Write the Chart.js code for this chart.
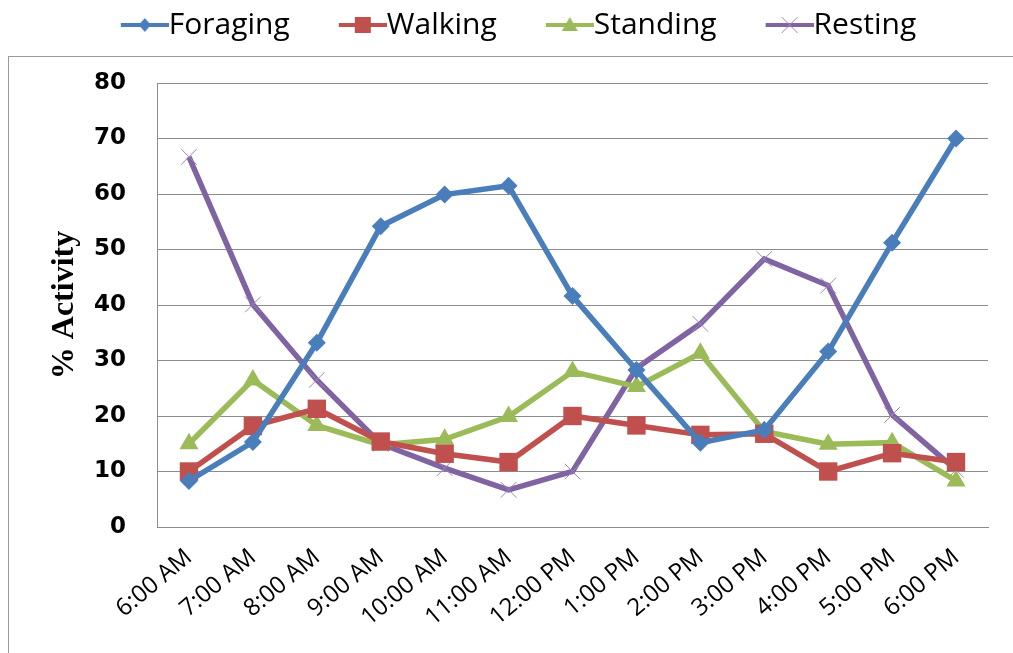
<!DOCTYPE html>
<html>
<head>
<meta charset="utf-8">
<title>% Activity by time of day</title>
<script src="https://cdn.jsdelivr.net/npm/chart.js@4.4.1/dist/chart.umd.min.js"></script>
<style>
  html, body { margin: 0; padding: 0; background: #fff; }
  #wrap { width: 1013px; height: 653px; position: relative; }
</style>
</head>
<body>
<div id="wrap"><canvas id="activity-chart" width="1013" height="653"></canvas></div>
<script>
// ─── Data ───
const TIMES = ['6:00 AM', '7:00 AM', '8:00 AM', '9:00 AM', '10:00 AM', '11:00 AM', '12:00 PM',
               '1:00 PM', '2:00 PM', '3:00 PM', '4:00 PM', '5:00 PM', '6:00 PM'];
const FORAGING = [8.3, 15.3, 33.2, 54.2, 59.9, 61.5, 41.6, 28.3, 15.2, 17.5, 31.6, 51.2, 70.0];
const WALKING  = [10.0, 18.2, 21.3, 15.4, 13.2, 11.7, 20.0, 18.3, 16.6, 16.8, 10.0, 13.3, 11.7];
const STANDING = [15.0, 26.5, 18.3, 14.8, 15.8, 19.9, 28.0, 25.3, 31.3, 17.2, 14.9, 15.2, 8.3];
const RESTING  = [66.7, 40.1, 26.5, 15.0, 10.6, 6.7, 10.0, 28.6, 36.6, 48.3, 43.5, 20.2, 10.3];

const Y_MIN = 0, Y_MAX = 80, Y_STEP = 10;

// ─── Series styling ───
const SERIES = [
  { label: 'Foraging', data: FORAGING, color: '#4a7ebb', marker: 'rectRot',  radius: 9 },
  { label: 'Walking',  data: WALKING,  color: '#c0504d', marker: 'rect',     radius: 13 },
  { label: 'Standing', data: STANDING, color: '#9bbb59', marker: 'triangle', radius: 11 },
  { label: 'Resting',  data: RESTING,  color: '#8064a2', marker: 'crossRot', radius: 11 },
];

const GRID = '#8c8c8c';
const LEGEND_FONT = 30;
const LEGEND_BOX = 72;
const LEGEND_EXTRA = 33;   // blank space between legend and plot top

// ─── Legend icons: short line with marker in the middle (Excel style) ───
function legendIcon(s) {
  const w = LEGEND_BOX + LEGEND_FONT, h = 30;
  const c = document.createElement('canvas');
  c.width = w; c.height = h;
  const g = c.getContext('2d');
  const x0 = w - 48, x1 = w, cx = (x0 + x1) / 2, cy = h / 2;
  g.strokeStyle = s.color; g.fillStyle = s.color;
  g.lineWidth = 4;
  g.beginPath(); g.moveTo(x0, cy); g.lineTo(x1, cy); g.stroke();
  g.beginPath();
  if (s.marker === 'rectRot') {
    g.moveTo(cx, cy - 7); g.lineTo(cx + 6, cy); g.lineTo(cx, cy + 7); g.lineTo(cx - 6, cy); g.closePath(); g.fill();
  } else if (s.marker === 'rect') {
    g.rect(cx - 8, cy - 8, 16, 16); g.fill();
  } else if (s.marker === 'triangle') {
    g.moveTo(cx, cy - 8); g.lineTo(cx + 8, cy + 6); g.lineTo(cx - 8, cy + 6); g.closePath(); g.fill();
  } else {
    g.strokeStyle = '#9a86bb';
    g.lineWidth = 1;
    g.moveTo(cx - 8, cy - 8); g.lineTo(cx + 8, cy + 8);
    g.moveTo(cx + 8, cy - 8); g.lineTo(cx - 8, cy + 8); g.stroke();
  }
  return c;
}
const ICONS = SERIES.map(legendIcon);

// ─── Outer frame + white background; extra gap under the legend ───
const framePlugin = {
  id: 'frame',
  beforeLayout(chart) {
    const lg = chart.legend;
    if (lg && !lg._padded) {
      const fit = lg.fit;
      lg.fit = function () { fit.call(this); this.height += LEGEND_EXTRA; };
      lg._padded = true;
    }
  },
  beforeDraw(chart) {
    const { ctx, width, height } = chart;
    ctx.save();
    ctx.fillStyle = '#fff';
    ctx.fillRect(0, 0, width, height);
    ctx.strokeStyle = '#9a9a9a';
    ctx.lineWidth = 1;
    ctx.strokeRect(8.5, 56.5, width + 20, height + 20);
    ctx.restore();
  },
};

// ─── Build chart ───
function buildChart() {
  const ctx = document.getElementById('activity-chart').getContext('2d');
  new Chart(ctx, {
    type: 'line',
    data: {
      labels: TIMES,
      datasets: SERIES.map(s => ({
        label: s.label,
        data: s.data,
        borderColor: s.color,
        backgroundColor: s.color,
        borderWidth: 5.5,
        tension: 0,
        pointStyle: s.marker,
        pointRadius: s.radius,
        pointHoverRadius: s.radius,
        pointBorderWidth: s.marker === 'crossRot' ? 1 : 0,
        pointBorderColor: s.marker === 'crossRot' ? '#9a86bb' : s.color,
        pointBackgroundColor: s.color,
      })),
    },
    options: {
      responsive: false,
      animation: false,
      layout: { padding: { top: 0, left: 10, right: 25, bottom: 0 } },
      plugins: {
        tooltip: { enabled: false },
        legend: {
          position: 'top',
          labels: {
            usePointStyle: true,
            pointStyleWidth: LEGEND_BOX,
            boxHeight: 20,
            padding: 10,
            color: '#000',
            font: { family: "'Open Sans', sans-serif", size: LEGEND_FONT },
            generateLabels: chart =>
              Chart.defaults.plugins.legend.labels.generateLabels(chart)
                .map((l, i) => ({ ...l, pointStyle: ICONS[i] })),
          },
        },
      },
      scales: {
        x: {
          offset: true,
          grid: { display: false },
          border: { display: true, color: GRID, width: 1 },
          ticks: {
            color: '#000',
            minRotation: 40, maxRotation: 40,
            padding: 8,
            font: { family: "'Open Sans', sans-serif", size: 24 },
          },
          afterFit: s => { s.height = 126; },
        },
        y: {
          min: Y_MIN, max: Y_MAX,
          grid: { color: GRID, lineWidth: 1, drawTicks: false },
          border: { display: true, color: GRID, width: 1 },
          ticks: {
            stepSize: Y_STEP,
            color: '#000',
            padding: 31,
            font: { family: "'DejaVu Sans', sans-serif", size: 23, weight: 'bold' },
          },
          title: {
            display: true,
            text: '% Activity',
            color: '#000',
            padding: { top: 36, bottom: 0 },
            font: { family: "'Liberation Serif', serif", size: 32, weight: 'bold' },
          },
          afterFit: s => { s.width = 147; },
        },
      },
    },
    plugins: [framePlugin],
  });
}

document.addEventListener('DOMContentLoaded', buildChart);
</script>
</body>
</html>
